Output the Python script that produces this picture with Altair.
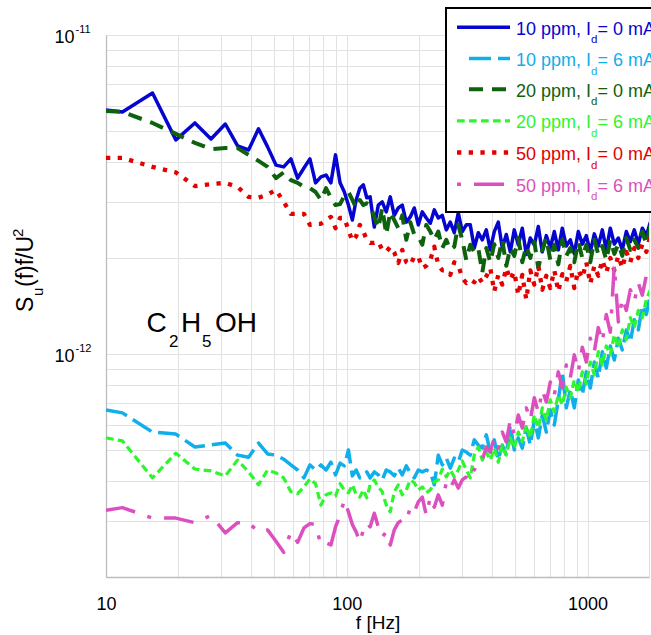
import altair as alt
import pandas as pd

# ---------------- data (values in units of 1e-12) ----------------
FREQ_LOW = [10, 11.7, 15.6, 19.5, 23.4, 27.3, 31.3, 35.2, 39.1, 43.0, 46.9, 50.8, 54.7, 58.6,
            62.5, 66.4, 70.3, 74.2, 78.1, 82.0, 85.9, 89.8, 93.8, 97.7, 101.6, 105.5, 109.4,
            113.3, 117.2, 121.1, 125.0]
FREQ_HIGH = [130.1, 135.2, 140.4, 145.9, 151.6, 157.5, 163.7, 170.0, 176.7, 183.6,
             190.7, 198.2, 205.9, 213.9, 222.3, 230.9, 239.9, 249.3, 259.0, 269.1,
             279.6, 290.5, 301.8, 313.6, 325.8, 338.5, 351.7, 365.5, 379.7, 394.5,
             409.9, 425.9, 442.5, 459.8, 477.7, 496.3, 515.7, 535.8, 556.7, 578.4,
             601.0, 624.4, 648.8, 674.1, 700.4, 727.7, 756.1, 785.6, 816.2, 848.0,
             881.1, 915.5, 951.2, 988.3, 1026.9, 1066.9, 1108.5, 1151.7, 1196.7, 1243.4,
             1291.9, 1342.3, 1394.6, 1449.0, 1505.5, 1564.2, 1625.3, 1688.6, 1754.5, 1822.9]
FREQ = FREQ_LOW + FREQ_HIGH

ppm10_0mA = [5.82, 5.74, 6.58, 4.69, 5.30, 4.72, 5.26, 4.49, 4.36, 5.08, 4.46, 3.91, 3.86, 4.09, 3.56,
             3.83, 4.09, 3.44, 3.59, 3.64, 3.44, 4.21, 3.44, 3.22, 2.93, 2.63, 3.04, 3.31, 3.39, 3.09, 3.11,
             2.50, 2.93, 3.00, 2.79, 3.11, 2.72, 2.87, 2.93, 2.59, 2.69, 2.87, 2.54, 2.79, 2.67, 2.57,
             2.83, 2.67, 2.72, 2.45, 2.59, 2.40, 2.77, 2.42, 2.54, 2.54, 2.15, 2.40, 2.28, 2.45,
             2.12, 2.42, 2.59, 2.15, 2.37, 2.09, 2.45, 2.20, 2.48, 2.05, 2.31, 2.20, 2.51, 2.09, 2.35,
             2.15, 2.42, 2.12, 2.48, 2.18, 2.28, 2.06, 2.42, 2.21, 2.35, 2.09, 2.38, 2.18, 2.45, 2.12,
             2.48, 2.21, 2.31, 2.12, 2.42, 2.25, 2.45, 2.21, 2.48, 2.35, 2.59]
ppm10_6mA = [0.668, 0.654, 0.569, 0.561, 0.511, 0.519, 0.526, 0.482, 0.475, 0.526, 0.486, 0.482, 0.468,
             0.449, 0.433, 0.409, 0.449, 0.433, 0.449, 0.433, 0.458, 0.418, 0.455, 0.446, 0.500, 0.415,
             0.433, 0.409, 0.415, 0.427, 0.409,
             0.427, 0.418, 0.403, 0.433, 0.427, 0.415, 0.439, 0.418, 0.446, 0.424, 0.409, 0.433, 0.427,
             0.433, 0.427, 0.389, 0.482, 0.449, 0.472, 0.439, 0.472, 0.458, 0.500, 0.493, 0.482, 0.538,
             0.518, 0.507, 0.558,
             0.493, 0.538, 0.465, 0.518, 0.482, 0.599, 0.500, 0.546, 0.507, 0.586, 0.518, 0.621, 0.546,
             0.644, 0.569, 0.668, 0.599, 0.718, 0.879, 0.678, 0.771, 0.678, 0.829, 0.744, 0.879, 0.782,
             0.944, 0.841, 1.017, 0.904, 1.06, 0.958, 1.12, 1.03, 1.19, 1.09, 1.28, 1.19, 1.42, 1.33, 1.53]
ppm20_0mA = [5.78, 5.74, 5.30, 4.90, 4.59, 4.39, 4.42, 4.42, 4.21, 4.03, 3.86, 3.56, 3.71, 3.51, 3.44,
             3.34, 3.31, 3.22, 3.04, 3.31, 3.09, 2.93, 2.95, 3.13, 3.22, 3.04, 2.87, 3.04, 2.93, 2.97, 2.93,
             2.69, 2.48, 2.87, 2.37, 2.79, 2.63, 2.48, 2.72, 2.28, 2.59, 2.37, 2.34, 2.20, 2.54, 2.42,
             2.28, 2.42, 2.15, 2.28, 2.12, 2.17, 2.54, 2.28, 1.97, 2.20, 2.09, 2.15, 1.80, 2.15,
             1.94, 2.21, 2.00, 2.28, 1.89, 2.15, 2.03, 2.31, 1.94, 2.18, 2.00, 2.25, 1.86, 2.12, 2.31,
             1.97, 2.20, 1.91, 2.28, 2.03, 2.15, 1.94, 2.25, 2.00, 2.20, 1.94, 2.28, 2.05, 2.18, 1.97,
             2.28, 2.06, 2.21, 2.03, 2.31, 2.12, 2.28, 2.15, 2.42, 2.21, 2.52]
ppm20_6mA = [0.546, 0.534, 0.409, 0.489, 0.436, 0.430, 0.415, 0.465, 0.427, 0.389, 0.433, 0.424, 0.409,
             0.370, 0.365, 0.383, 0.406, 0.392, 0.336, 0.362, 0.367, 0.359, 0.392, 0.375, 0.367, 0.389,
             0.362, 0.356, 0.375, 0.354, 0.389,
             0.403, 0.383, 0.370, 0.336, 0.320, 0.370, 0.389, 0.362, 0.375, 0.403, 0.395, 0.375, 0.383,
             0.367, 0.375, 0.397, 0.403, 0.436, 0.412, 0.433, 0.412, 0.433, 0.462, 0.433, 0.409, 0.482,
             0.511, 0.465, 0.493,
             0.465, 0.507, 0.458, 0.518, 0.482, 0.546, 0.507, 0.569, 0.530, 0.599, 0.546, 0.644, 0.586,
             0.678, 0.621, 0.718, 0.658, 0.744, 0.693, 0.786, 0.729, 0.829, 0.760, 0.879, 0.805, 0.944,
             0.860, 1.017, 0.924, 1.06, 0.994, 1.15, 1.05, 1.19, 1.11, 1.30, 1.21, 1.37, 1.30, 1.48, 1.59]
ppm50_0mA = [4.12, 4.12, 3.86, 3.71, 3.36, 3.41, 3.44, 3.34, 3.11, 3.09, 3.16, 3.27, 3.00, 2.75, 2.75,
             2.75, 2.54, 2.56, 2.56, 2.63, 2.69, 2.48, 2.67, 2.67, 2.45, 2.26, 2.34, 2.54, 2.42, 2.28, 2.23,
             2.23, 2.25, 2.12, 2.09, 2.17, 2.08, 1.93, 2.12, 1.94, 1.90, 2.02, 2.02, 1.86, 1.89, 1.97,
             2.17, 1.90, 1.83, 1.83, 1.77, 1.94, 1.90, 1.73, 1.67, 1.71, 1.68, 1.75, 1.67, 1.75,
             1.86, 1.57, 1.77, 1.65, 1.86, 1.71, 1.81, 1.53, 1.77, 1.48, 1.83, 1.65, 1.89, 1.59, 1.76,
             1.61, 1.83, 1.57, 1.78, 1.69, 1.89, 1.61, 1.83, 1.73, 1.94, 1.66, 1.89, 1.76, 1.97, 1.80,
             2.00, 1.83, 2.03, 1.86, 2.09, 1.94, 2.15, 2.00, 2.21, 2.09, 2.35]
ppm50_6mA = [0.324, 0.330, 0.306, 0.306, 0.296, 0.312, 0.275, 0.296, 0.296, 0.277, 0.281, 0.259, 0.239,
             0.277, 0.257, 0.285, 0.294, 0.292, 0.252, 0.256, 0.252, 0.287, 0.312, 0.349, 0.320, 0.292,
             0.277, 0.257, 0.281, 0.296, 0.287,
             0.317, 0.287, 0.267, 0.277, 0.252, 0.281, 0.296, 0.302, 0.298, 0.331, 0.320, 0.344, 0.356,
             0.312, 0.356, 0.331, 0.362, 0.336, 0.397, 0.380, 0.403, 0.380, 0.403, 0.412, 0.443, 0.433,
             0.458, 0.465, 0.511,
             0.493, 0.546, 0.507, 0.569, 0.530, 0.621, 0.558, 0.644, 0.586, 0.678, 0.621, 0.729, 0.658,
             0.771, 0.707, 0.817, 0.744, 0.879, 0.782, 0.924, 0.841, 0.994, 0.879, 1.05, 0.944, 1.12,
             1.017, 1.21, 1.09, 1.33, 1.17, 1.90, 1.26, 1.50, 1.37, 1.59, 1.46, 1.67, 1.53, 1.76, 1.64]

UNIT = 1e-12
X_GRID = [10, 20, 30, 40, 50, 60, 70, 80, 90, 100, 200, 300, 400, 500, 600, 700, 800, 900, 1000]
Y_GRID = [2e-13, 3e-13, 4e-13, 5e-13, 6e-13, 7e-13, 8e-13, 9e-13,
          1e-12, 2e-12, 3e-12, 4e-12, 5e-12, 6e-12, 7e-12, 8e-12, 9e-12, 1e-11]

SERIES = [
    ("10 ppm", "0", ppm10_0mA, "#0505CF", None, 3.5),
    ("10 ppm", "6", ppm10_6mA, "#10AEEA", [22, 7], 3.5),
    ("20 ppm", "0", ppm20_0mA, "#0E620E", [14, 9], 4),
    ("20 ppm", "6", ppm20_6mA, "#2EF52E", [7.7, 4.3], 3.2),
    ("50 ppm", "0", ppm50_0mA, "#E40000", [4.3, 7.4], 4.3),
    ("50 ppm", "6", ppm50_6mA, "#DB50BE", [30, 13, 4, 13], 3.5),
]
for s in SERIES:
    assert len(s[2]) == len(FREQ), (s[0], s[1], len(s[2]))

FONT = "Liberation Sans"
W, H = 543, 542
xs = alt.Scale(type="log", domain=[10, 1800], nice=False)
ys = alt.Scale(type="log", domain=[2e-13, 1e-11], nice=False)

x_axis = alt.Axis(
    values=X_GRID, grid=True, gridColor="#E2E2E2", gridWidth=1,
    domainColor="#BDBDBD", domainWidth=1.3, ticks=False, tickSize=0,
    labelExpr="(datum.value == 10 || datum.value == 100 || datum.value == 1000) ? format(datum.value, 'd') : ''",
    labelFontSize=18, labelColor="black", labelFont=FONT, labelPadding=18,
    labelOverlap=False, labelFlush=False,
    title="f [Hz]", titleFontSize=19, titleFontWeight="normal", titleFont=FONT,
    titleColor="black", titleY=51, titleBaseline="alphabetic",
)
y_axis = alt.Axis(
    values=Y_GRID, grid=True, gridColor="#E2E2E2", gridWidth=1,
    domainColor="#BDBDBD", domainWidth=1.3, ticks=False, tickSize=0, labels=False, title="",
)

X = alt.X("f:Q", scale=xs, axis=x_axis)
Y = alt.Y("v:Q", scale=ys, axis=y_axis)

layers = []
for ppm, ma, vals, color, dash, width in SERIES:
    df = pd.DataFrame({"f": FREQ, "v": [v * UNIT for v in vals]})
    mk = dict(color=color, strokeWidth=width, clip=True, strokeJoin="round")
    if dash:
        mk["strokeDash"] = dash
    layers.append(alt.Chart(df).mark_line(**mk).encode(x=X, y=Y))

# y tick labels 10^-11, 10^-12 placed through the y scale
ylab = pd.DataFrame({"v": [1e-11, 1e-12], "base": ["10", "10"], "exp": ["-11", "-12"]})
layers.append(alt.Chart(ylab).mark_text(align="right", baseline="alphabetic", fontSize=18,
                                        font=FONT, dy=8, color="black")
              .encode(x=alt.value(-31.5), y=Y, text="base:N"))
layers.append(alt.Chart(ylab).mark_text(align="left", baseline="alphabetic", fontSize=11,
                                        font=FONT, dy=-2, color="black")
              .encode(x=alt.value(-30.5), y=Y, text="exp:N"))


def txt(s, x, y, size, color="black", angle=None, align="left"):
    kw = dict(align=align, baseline="alphabetic", fontSize=size, font=FONT, color=color)
    if angle is not None:
        kw["angle"] = angle
    return (alt.Chart(pd.DataFrame({"t": [s]})).mark_text(**kw)
            .encode(x=alt.value(x), y=alt.value(y), text="t:N"))


# y-axis title  S_u(f)f/U^2 (rotated, reading upwards)
layers += [
    txt("S", -73, 277, 23, angle=270),
    txt("u", -63, 261, 15, angle=270),
    txt("(f)f/U", -73, 252, 23, angle=270),
    txt("2", -83, 202, 15, angle=270),
]

# C2H5OH annotation
layers += [
    txt("C", 40.5, 296.7, 28),
    txt("2", 63, 311.7, 17),
    txt("H", 75, 296.7, 28),
    txt("5", 96, 311.7, 17),
    txt("OH", 109, 296.7, 28),
]

# legend box
layers.append(alt.Chart(pd.DataFrame({"a": [0]})).mark_rect(fill="white", stroke="black", strokeWidth=2)
              .encode(x=alt.value(340), x2=alt.value(600), y=alt.value(-27), y2=alt.value(177)))

ROW_BASE = [34.7, 66.0, 96.7, 128.3, 160.0, 191.7]
for i, (ppm, ma, vals, color, dash, width) in enumerate(SERIES):
    b = ROW_BASE[i] - 35
    mk = dict(color=color, strokeWidth=width)
    if dash:
        mk["strokeDash"] = dash
    if i == 5:
        mk["strokeDashOffset"] = 43
    x1 = 363 if i in (1, 2) else 351
    layers.append(alt.Chart(pd.DataFrame({"a": [0]})).mark_rule(**mk)
                  .encode(x=alt.value(x1), x2=alt.value(404), y=alt.value(b - 7.5)))
    layers.append(txt(f"{ppm}, I", 410, b, 18, color))
    layers.append(txt("d", 485, b + 8.7, 11.5, color))
    layers.append(txt(f"= {ma} mA", 491.5, b, 18, color))

chart = (alt.layer(*layers)
         .properties(width=W, height=H, autosize="none",
                     padding={"left": 106, "top": 35, "right": 2, "bottom": 58})
         .configure_view(stroke="#BDBDBD", strokeWidth=1)
         .configure(background="white", font=FONT))

chart.save("out.html", embed_options={"renderer": "svg", "actions": False})
